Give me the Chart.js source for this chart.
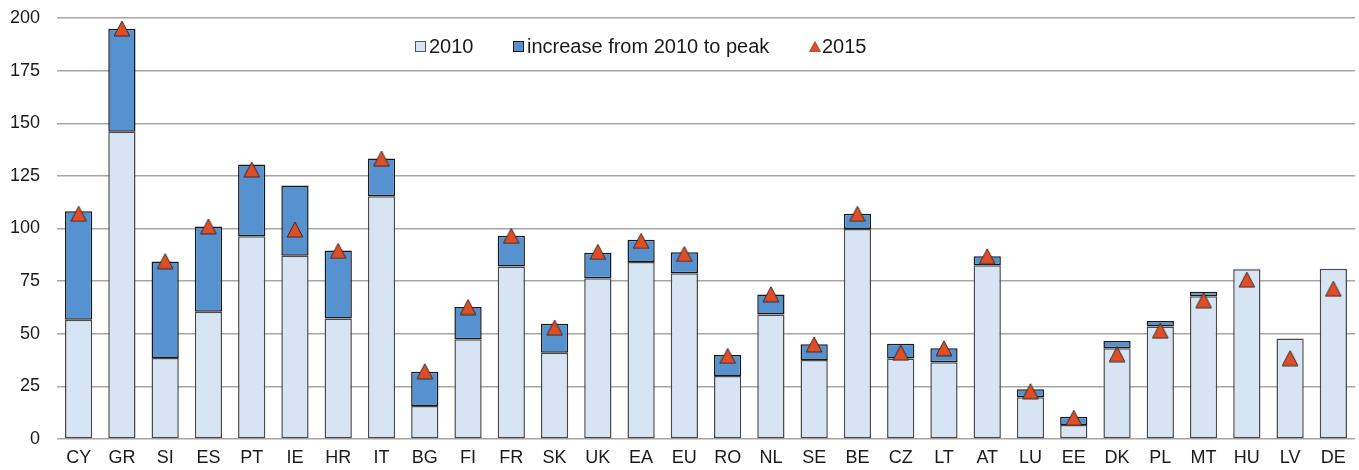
<!DOCTYPE html>
<html><head><meta charset="utf-8">
<script src="https://cdn.jsdelivr.net/npm/chart.js@4/dist/chart.umd.min.js"></script>
<style>
html,body{margin:0;padding:0;background:#fff;}
#wrap{position:relative;width:1359px;height:470px;overflow:hidden;}
canvas{display:block;}
.leg{position:absolute;top:33px;height:26px;display:flex;align-items:center;font-family:"Liberation Sans",Arial,sans-serif;font-size:20px;color:#1a1a1a;white-space:nowrap;}
.sw{display:inline-block;width:9px;height:9px;border:1px solid #333;margin-right:3px;}
</style></head>
<body>
<div id="wrap">
<canvas id="c" width="1359" height="470"></canvas>
<div class="leg" style="left:415px"><span class="sw" style="background:#d6e4f4;border-color:#555"></span>2010</div>
<div class="leg" style="left:513px"><span class="sw" style="background:#5592cf;border-color:#1e1e1e"></span>increase from 2010 to peak</div>
<div class="leg" style="left:809px"><svg width="12" height="11" style="margin-right:1px"><polygon points="6,0.5 11.5,10.5 0.5,10.5" fill="#e04e27" stroke="#7a2a14" stroke-width="0.6"/></svg>2015</div>
</div>
<script>
const categories = ["CY","GR","SI","ES","PT","IE","HR","IT","BG","FI","FR","SK","UK","EA","EU","RO","NL","SE","BE","CZ","LT","AT","LU","EE","DK","PL","MT","HU","LV","DE"];
const level2010 = [56.6,146.0,38.5,60.4,96.3,87.1,57.2,115.3,15.7,47.4,81.9,41.0,76.4,84.1,78.8,29.9,59.1,37.5,99.8,38.3,36.5,82.5,19.8,6.7,43.1,53.4,67.8,80.6,47.7,80.9];
const increaseToPeak = [51.6,48.9,45.8,40.5,34.1,33.3,32.3,17.9,16.3,15.3,14.7,13.7,12.1,10.5,9.9,10.0,9.5,7.5,7.2,6.9,6.6,4.3,3.8,3.9,3.5,2.7,2.2,0.3,0,0];
const level2015 = [107,195,84.5,101,128,99.5,89.4,133.2,32.2,62.7,96.5,52.9,88.9,94.1,87.9,39.5,68.8,44.9,107,41,43.1,86.8,22.7,10.1,40.3,51.5,65.9,75.7,38.4,71.4];
const yTicks = [0,25,50,75,100,125,150,175,200];

// triangle marker image, centred on its bounding box
const tri = document.createElement('canvas');
tri.width = 18; tri.height = 17;
(function(){
  const g = tri.getContext('2d');
  g.beginPath();
  g.moveTo(9, 1);
  g.lineTo(16.8, 16);
  g.lineTo(1.2, 16);
  g.closePath();
  g.fillStyle = '#e04e27';
  g.fill();
  g.lineWidth = 1;
  g.strokeStyle = '#3a2a24';
  g.stroke();
})();

const font = {family: '"Liberation Sans", Arial, sans-serif', size: 18};

new Chart(document.getElementById('c'), {
  data: {
    labels: categories,
    datasets: [
      {type: 'line', label: '2015', data: level2015, showLine: false,
       pointStyle: tri, pointRadius: 9, pointHoverRadius: 9, order: 0},
      {type: 'bar', label: '2010', data: level2010, backgroundColor: '#d6e4f4',
       borderColor: '#4a4a4a', borderWidth: 1.5, borderSkipped: false, order: 1,
       stack: 's', categoryPercentage: 1, barPercentage: 0.63},
      {type: 'bar', label: 'increase from 2010 to peak', data: increaseToPeak, backgroundColor: '#5592cf',
       borderColor: '#1a1a1a', borderWidth: 1.5, borderSkipped: false, order: 1,
       stack: 's', categoryPercentage: 1, barPercentage: 0.63}
    ]
  },
  options: {
    responsive: false,
    animation: false,
    layout: {autoPadding: false, padding: {top: 18, right: 4, left: 0, bottom: 0}},
    plugins: {legend: {display: false}, tooltip: {enabled: false}},
    scales: {
      x: {
        stacked: true,
        offset: true,
        grid: {display: false, drawTicks: false},
        border: {display: false},
        ticks: {font: font, color: '#1a1a1a', padding: 8, maxRotation: 0, autoSkip: false},
        afterFit: s => { s.height = 31; s.paddingLeft = 0; s.paddingRight = 0; }
      },
      y: {
        stacked: true,
        min: 0, max: 200,
        afterBuildTicks: s => { s.ticks = yTicks.map(v => ({value: v})); },
        grid: {color: '#a6a6a6', lineWidth: 1.5, drawTicks: false},
        border: {display: false},
        ticks: {font: font, color: '#1a1a1a', padding: 17},
        afterFit: s => { s.width = 57; s.paddingTop = 0; s.paddingBottom = 0; }
      }
    }
  }
});
</script>
</body></html>
